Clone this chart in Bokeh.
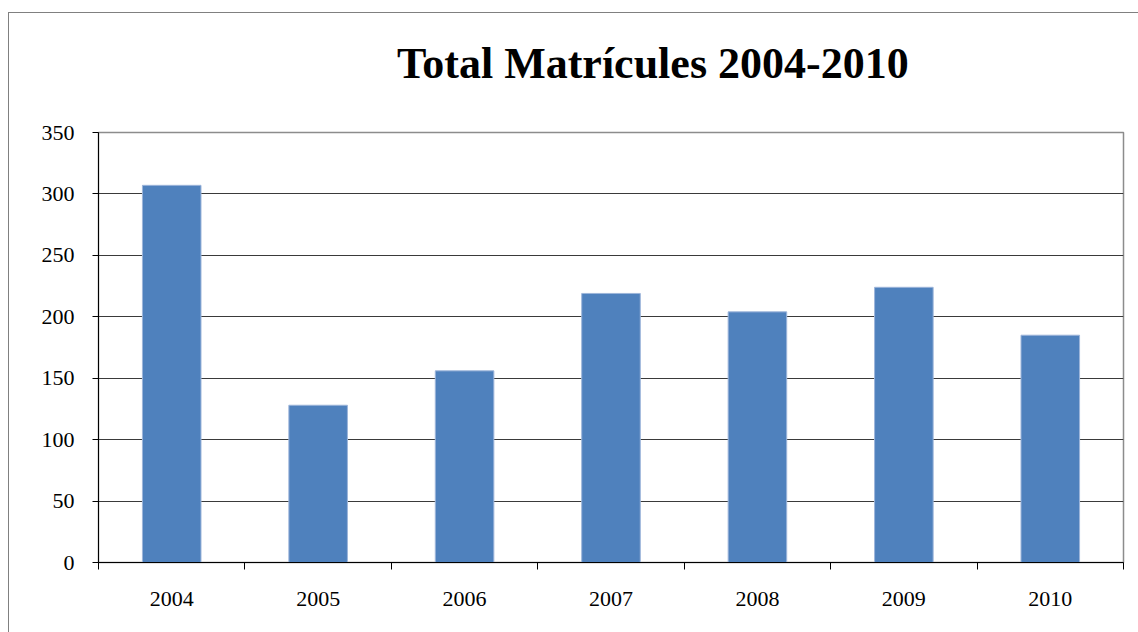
from bokeh.plotting import figure
from bokeh.models import Range1d, FixedTicker, ColumnDataSource, Div
from bokeh.layouts import column
from bokeh.embed import file_html
from bokeh.resources import INLINE

title_text = "Total Matrícules 2004-2010"
years = ["2004", "2005", "2006", "2007", "2008", "2009", "2010"]
values = [307, 128, 156, 219, 204, 224, 185]
y_ticks = [0, 50, 100, 150, 200, 250, 300, 350]

xs = [i + 0.5 for i in range(len(years))]
src = ColumnDataSource(dict(x=xs, top=values, year=years))

title_div = Div(text=title_text, width=1129, height=80,
                styles={"font-family": "Liberation Serif", "font-size": "44px",
                        "font-weight": "bold", "color": "black", "line-height": "1",
                        "padding-top": "24px", "padding-left": "383px",
                        "box-sizing": "border-box", "white-space": "nowrap"})

p = figure(width=1129, height=529, output_backend="svg", toolbar_location=None,
           x_range=Range1d(0, len(years)), y_range=Range1d(0, 350),
           min_border_left=89, min_border_right=15, min_border_top=29, min_border_bottom=70)

p.vbar(x="x", top="top", width=0.4, bottom=0, source=src,
       fill_color="#4F81BD", line_color="#9db5da", line_width=1)

p.outline_line_color = "#8c8c8c"
p.outline_line_width = 1.5
p.background_fill_color = "white"
p.border_fill_color = "white"

# y axis
p.yaxis.ticker = FixedTicker(ticks=y_ticks)
p.yaxis.axis_line_color = "black"
p.yaxis.major_tick_out = 6
p.yaxis.major_tick_in = 0
p.yaxis.minor_tick_line_color = None
p.yaxis.major_label_text_font = "Liberation Serif"
p.yaxis.major_label_text_font_size = "22px"
p.yaxis.major_label_text_color = "black"
p.yaxis.major_label_standoff = 18

# x axis
p.xaxis.ticker = FixedTicker(ticks=xs, minor_ticks=list(range(len(years) + 1)))
p.xaxis.major_label_overrides = {x: y for x, y in zip(xs, years)}
p.xaxis.axis_line_color = "black"
p.xaxis.major_tick_line_color = None
p.xaxis.major_tick_out = 0
p.xaxis.major_tick_in = 0
p.xaxis.minor_tick_out = 7
p.xaxis.minor_tick_in = 0
p.xaxis.minor_tick_line_color = "black"
p.xaxis.major_label_text_font = "Liberation Serif"
p.xaxis.major_label_text_font_size = "22px"
p.xaxis.major_label_text_color = "black"
p.xaxis.major_label_standoff = 22

p.xgrid.grid_line_color = None
p.ygrid.ticker = FixedTicker(ticks=y_ticks[1:-1])
p.ygrid.grid_line_color = "#3a3a3a"
p.ygrid.grid_line_width = 1.2

layout = column(title_div, p, spacing=0,
                styles={"border-top": "1px solid #808080", "border-left": "1px solid #808080",
                        "margin-top": "12px", "margin-left": "8px"})

open("out.html", "w").write(file_html(layout, INLINE))
